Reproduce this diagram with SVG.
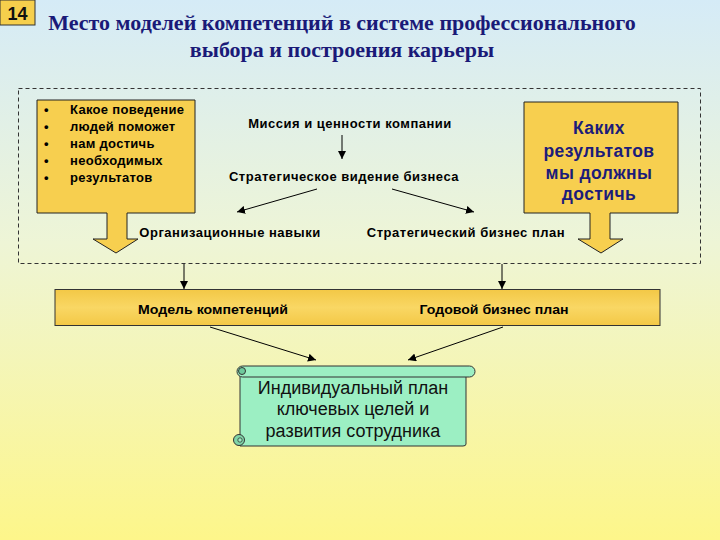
<svg xmlns="http://www.w3.org/2000/svg" width="720" height="540" viewBox="0 0 720 540">
<defs>
<linearGradient id="bg" x1="0" y1="0" x2="0" y2="1">
<stop offset="0" stop-color="#d5ebf7"/>
<stop offset="0.45" stop-color="#eef5d6"/>
<stop offset="1" stop-color="#fdf68a"/>
</linearGradient>
<linearGradient id="bar" x1="0" y1="0" x2="0" y2="1">
<stop offset="0" stop-color="#f3c846"/>
<stop offset="0.5" stop-color="#f9d764"/>
<stop offset="1" stop-color="#f3c846"/>
</linearGradient>
<marker id="ah" viewBox="0 0 10 10" refX="10" refY="5" markerWidth="8" markerHeight="8" markerUnits="userSpaceOnUse" orient="auto">
<path d="M0,0 L10,5 L0,10 Z" fill="#000"/>
</marker>
<style>
.callout{fill:#f7cf4f;stroke:#222;stroke-width:1}
.lbl{font-family:"Liberation Sans",Arial,sans-serif;font-weight:bold;font-size:13px;letter-spacing:0.5px;fill:#000}
.title{font-family:"Liberation Serif","Times New Roman",serif;font-weight:bold;font-size:22px;fill:#1a1a78}
.conn{stroke:#000;stroke-width:1;fill:none;marker-end:url(#ah)}
.scroll{fill:#9cefc3;stroke:#333;stroke-width:1}
</style>
</defs>
<rect x="0" y="0" width="720" height="540" fill="url(#bg)"/>

<g id="slide-number">
<rect x="0" y="0" width="35" height="25" fill="#f6cf4c" stroke="#333" stroke-width="1"/>
<text x="17.5" y="20" text-anchor="middle" font-family="Liberation Sans,Arial,sans-serif" font-weight="bold" font-size="18" fill="#111">14</text>
</g>

<g id="title">
<text class="title" x="342" y="30" text-anchor="middle">Место моделей компетенций в системе профессионального</text>
<text class="title" x="342" y="57" text-anchor="middle">выбора и построения карьеры</text>
</g>

<g id="frame">
<rect x="18.5" y="88.5" width="682" height="175" fill="none" stroke="#333" stroke-width="1" stroke-dasharray="4,3"/>
</g>

<g id="behaviour-callout">
<path class="callout" d="M37,100 H195 V213 H127 V239 H138 L116,253 L93,239 H107 V213 H37 Z"/>
<g font-family="Liberation Sans,Arial,sans-serif" font-weight="bold" font-size="13" fill="#000">
<text x="44" y="114">•</text><text x="70" y="114" letter-spacing="0.3">Какое поведение</text>
<text x="44" y="131">•</text><text x="70" y="131" letter-spacing="0.3">людей поможет</text>
<text x="44" y="148">•</text><text x="70" y="148" letter-spacing="0.3">нам достичь</text>
<text x="44" y="165">•</text><text x="70" y="165" letter-spacing="0.3">необходимых</text>
<text x="44" y="182">•</text><text x="70" y="182" letter-spacing="0.3">результатов</text>
</g>
</g>

<g id="results-callout">
<path class="callout" d="M524,102 H678 V213 H610 V239 H623 L601,253 L578,239 H590 V213 H524 Z"/>
<g font-family="Liberation Sans,Arial,sans-serif" font-weight="bold" font-size="17.5" letter-spacing="0.4" fill="#1c1c7a" text-anchor="middle">
<text x="599" y="134">Каких</text>
<text x="599" y="157">результатов</text>
<text x="599" y="179">мы должны</text>
<text x="599" y="200">достичь</text>
</g>
</g>

<g id="mission"><text class="lbl" x="350" y="128" text-anchor="middle">Миссия и ценности компании</text></g>
<g id="vision"><text class="lbl" x="344" y="181" text-anchor="middle">Стратегическое видение бизнеса</text></g>
<g id="org-skills"><text class="lbl" x="230" y="237" text-anchor="middle">Организационные навыки</text></g>
<g id="strategic-plan"><text class="lbl" x="466" y="237" text-anchor="middle">Стратегический бизнес план</text></g>

<g id="bar">
<rect x="55" y="289.5" width="605" height="36" fill="url(#bar)" stroke="#333" stroke-width="1"/>
<text x="213" y="314" text-anchor="middle" font-family="Liberation Sans,Arial,sans-serif" font-weight="bold" font-size="13" textLength="150" lengthAdjust="spacingAndGlyphs">Модель компетенций</text>
<text x="494" y="314" text-anchor="middle" font-family="Liberation Sans,Arial,sans-serif" font-weight="bold" font-size="13" textLength="149" lengthAdjust="spacingAndGlyphs">Годовой бизнес план</text>
</g>

<g id="individual-plan">
<path class="scroll" d="M244,372 H466 V444 Q466,446 463,446 H240 V372 Z"/>
<rect class="scroll" x="237" y="366" width="238" height="11" rx="5.5"/>
<circle cx="242" cy="371" r="3.5" fill="#6ec99c" stroke="#333" stroke-width="1"/>
<circle cx="239" cy="440" r="5.5" fill="#7fd5a8" stroke="#333" stroke-width="1"/>
<circle cx="240" cy="440" r="2.2" fill="#9cefc3" stroke="#333" stroke-width="0.8"/>
<g font-family="Liberation Sans,Arial,sans-serif" font-size="18" fill="#111" text-anchor="middle">
<text x="353" y="394">Индивидуальный план</text>
<text x="353" y="415">ключевых целей и</text>
<text x="353" y="437">развития сотрудника</text>
</g>
</g>

<g id="connectors">
<line class="conn" x1="342" y1="135" x2="342" y2="159"/>
<line class="conn" x1="317" y1="189" x2="237" y2="212"/>
<line class="conn" x1="392" y1="189" x2="474" y2="212"/>
<line class="conn" x1="184" y1="264" x2="184" y2="289"/>
<line class="conn" x1="502" y1="264" x2="502" y2="289"/>
<line class="conn" x1="210" y1="327" x2="316" y2="360"/>
<line class="conn" x1="503" y1="327" x2="408" y2="360"/>
</g>
</svg>
